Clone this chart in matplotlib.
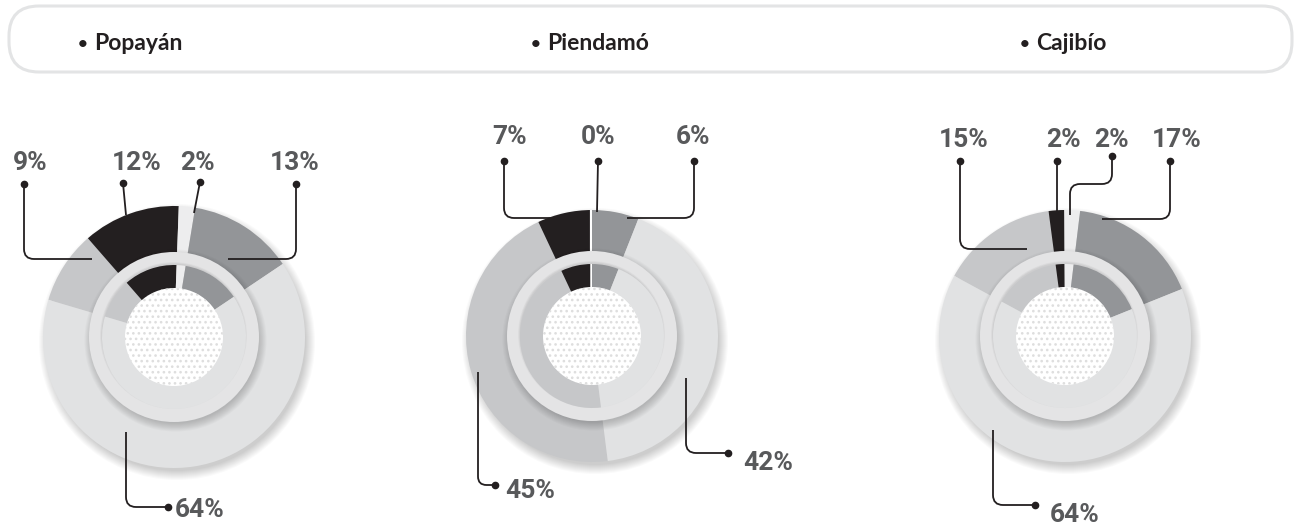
import matplotlib
matplotlib.use('Agg')
import matplotlib.pyplot as plt
from matplotlib.patches import Circle, FancyBboxPatch, PathPatch
from matplotlib.path import Path
import numpy as np

# ---------------- data ----------------
municipalities = ['Popayán', 'Piendamó', 'Cajibío']
# categories in clockwise order (same order for every municipality)
category_colors = ['#c6c7c9', '#231f20', '#ededee', '#939598', '#e1e2e3']
popayan = [9, 12, 2, 13, 64]
piendamo = [45, 7, 0, 6, 42]
cajibio = [15, 2, 2, 17, 64]
series = [popayan, piendamo, cajibio]

# ---------------- layout (pixels, y measured from top) ----------------
W, H = 1296, 525
centers = [(174, 337), (592, 336), (1065, 336)]
outer_r = [131, 126, 126]
start_angles = [163.5, 277.2, 151.5]
R_BEVEL, R_INNER, R_DOT = 85, 72, 49
header_x = [80, 533, 1022]

# label placement per category: (x, baseline, ha, leader polyline from dot to wedge)
label_layout = [
    [((30, 170), 'center', [(24, 184), (24, 259), (92, 259)]),
     ((137, 170), 'center', [(123, 183), (126, 215)]),
     ((197, 170), 'center', [(200, 182), (194, 213)]),
     ((295, 170), 'center', [(296, 184), (296, 259), (228, 259)]),
     ((175, 517), 'left', [(168, 507), (126, 507), (126, 432)])],
    [((505, 498), 'left', [(495, 485), (478, 485), (478, 372)]),
     ((510, 144), 'center', [(504, 161), (504, 218), (557, 218)]),
     ((598, 144), 'center', [(598, 161), (597, 212)]),
     ((693, 144), 'center', [(694, 161), (694, 218), (627, 218)]),
     ((743, 470), 'left', [(728, 453), (686, 453), (686, 378)])],
    [((964, 147), 'center', [(960, 161), (960, 249), (1027, 249)]),
     ((1063, 147), 'center', [(1057, 161), (1057, 212)]),
     ((1111, 147), 'center', [(1112, 156), (1112, 184), (1070, 184), (1070, 215)]),
     ((1177, 147), 'center', [(1170, 161), (1170, 219), (1102, 219)]),
     ((1050, 522), 'left', [(1035, 505), (993, 505), (993, 430)])],
]

LINE_C = '#231f20'
LABEL_C = '#58595b'


def rounded_path(pts, r=10):
    pts = [np.array((x, H - y), float) for x, y in pts]
    verts = [pts[0]]
    codes = [Path.MOVETO]
    for i in range(1, len(pts) - 1):
        p0, p1, p2 = pts[i - 1], pts[i], pts[i + 1]
        l1 = np.linalg.norm(p1 - p0)
        l2 = np.linalg.norm(p2 - p1)
        d1 = (p1 - p0) / l1
        d2 = (p2 - p1) / l2
        rr = min(r, l1 / 2, l2 / 2)
        verts += [p1 - d1 * rr, p1, p1 + d2 * rr]
        codes += [Path.LINETO, Path.CURVE3, Path.CURVE3]
    verts.append(pts[-1])
    codes.append(Path.LINETO)
    return Path(verts, codes)


plt.rcParams['hatch.linewidth'] = 1.1
fig = plt.figure(figsize=(W / 100, H / 100), dpi=100)
ax = fig.add_axes([0, 0, 1, 1])

# header box
box = FancyBboxPatch((9, H - 72), 1283, 66,
                     boxstyle='round,pad=0,rounding_size=30',
                     fc='white', ec='#e3e4e5', lw=2.2, zorder=1)
ax.add_patch(box)
for name, hx in zip(municipalities, header_x):
    ax.text(hx + 3, H - 44, '•', ha='center', va='center',
            fontsize=12, fontweight='bold', color='#231f20',
            family=['Lato', 'DejaVu Sans'], zorder=2)
    ax.text(hx + 14, H - 50, name, ha='left', va='baseline',
            fontsize=16.5, fontweight='bold', color='#231f20',
            family=['Lato', 'DejaVu Sans'], zorder=2)

for vals, (cx, cy), R, sa, layout in zip(series, centers, outer_r,
                                           start_angles, label_layout):
    Y = H - cy
    # soft drop shadow of the outer disc
    for k in range(10):
        ax.add_patch(Circle((cx + 3, Y - 5), R - 2 + k * 1.0, fc='black',
                            alpha=0.018, lw=0, zorder=0.5))
    # outer ring
    wedges, _ = ax.pie(vals, colors=category_colors, startangle=sa,
                       counterclock=False, radius=R, center=(cx, Y),
                       wedgeprops=dict(linewidth=0))
    for w, v in zip(wedges, vals):
        w.set_zorder(1)
        if v == 0:
            w.set_edgecolor('white')
            w.set_linewidth(3)
    # bevel ring shadow + ring
    for k in range(10):
        ax.add_patch(Circle((cx + 1.5, Y - 3.5), R_BEVEL - 2 + k * 0.9,
                            fc='black', alpha=0.02, lw=0, zorder=2))
    ax.add_patch(Circle((cx, Y), R_BEVEL, fc='#e4e4e5', lw=0, zorder=3))
    # inner shadow ring below bevel edge
    for k in range(4):
        ax.add_patch(Circle((cx - 0.5, Y + 1.5), R_INNER + 1.5 - k * 0.6,
                            fc='black', alpha=0.025, lw=0, zorder=3.2))
    # inner ring
    iw, _ = ax.pie(vals, colors=category_colors, startangle=sa,
                   counterclock=False, radius=R_INNER, center=(cx, Y),
                   wedgeprops=dict(width=R_INNER - R_DOT + 1, linewidth=0))
    for w, v in zip(iw, vals):
        w.set_zorder(4)
        if v == 0:
            w.set_edgecolor('white')
            w.set_linewidth(2.5)
    # dotted centre
    ax.add_patch(Circle((cx, Y), R_DOT, fc='white', ec='#dedede',
                        hatch='...', lw=0, zorder=5))
    # labels and leader lines
    for v, ((tx, ty), ha, pts) in zip(vals, layout):
        ax.add_patch(PathPatch(rounded_path(pts), fc='none', ec=LINE_C,
                               lw=1.3, capstyle='butt', zorder=6))
        ax.plot([pts[0][0]], [H - pts[0][1]], 'o', ms=4.5, color=LINE_C,
                zorder=7)
        ax.text(tx, H - ty, f'{v}%', ha=ha, va='baseline', fontsize=19,
                fontweight='bold', color=LABEL_C,
                family=['Roboto', 'DejaVu Sans'], zorder=7)

ax.set_xlim(0, W)
ax.set_ylim(0, H)
ax.set_aspect('auto')
ax.axis('off')
fig.savefig('out.png', dpi=100, facecolor='white')
